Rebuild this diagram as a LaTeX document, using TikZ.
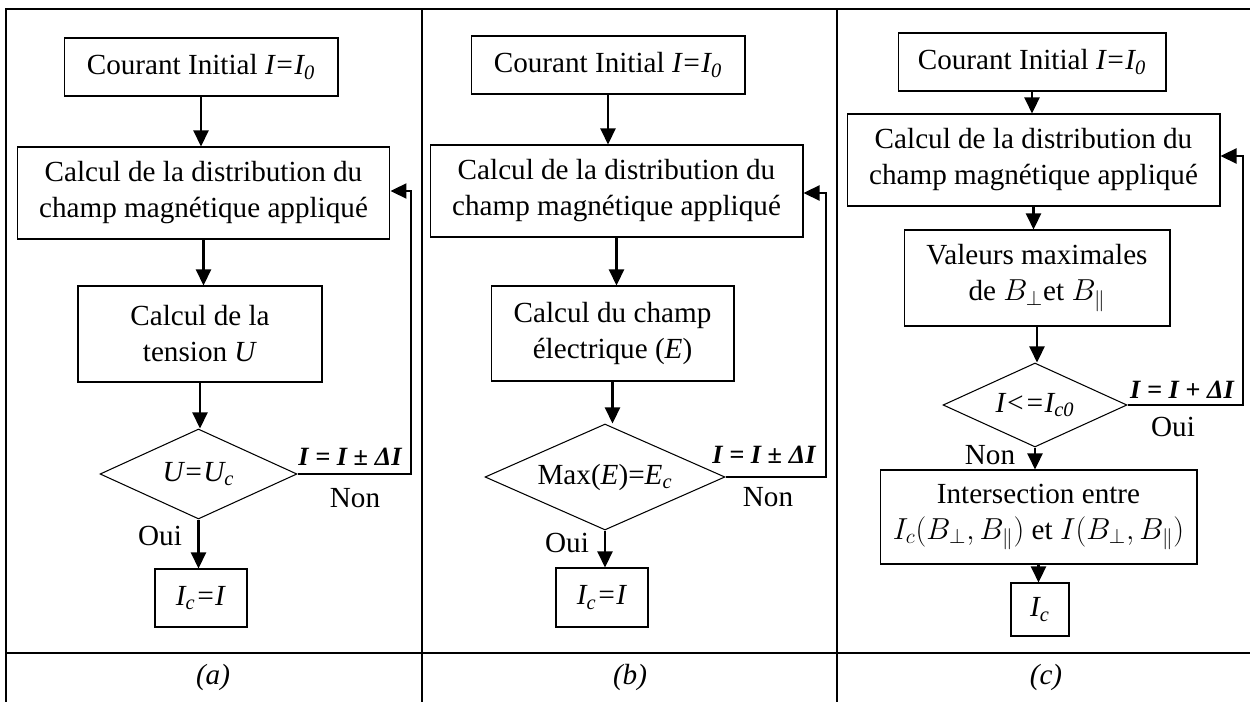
\documentclass[tikz,border=0pt]{standalone}
\usepackage{fontspec}
\setmainfont{Liberation Serif}
\usetikzlibrary{positioning,arrows.meta,shapes.geometric}
\newcommand{\flowsize}{\fontsize{16.6}{20.5}\selectfont}
\tikzset{
  flowbox/.style={draw, line width=0.6pt, align=center, inner sep=0pt},
  decision/.style={diamond, draw, line width=0.6pt, align=center, inner sep=0pt, aspect=2.2},
  flowarr/.style={-{Triangle[length=0.32cm,width=0.3cm]}, line width=1.3pt},
  frameline/.style={line width=1.3pt},
  looplabel/.style={inner sep=0pt, anchor=base, font=\fontsize{15}{18}\selectfont\bfseries\itshape},
  caption/.style={font=\flowsize\itshape}
}

\begin{document}
\begin{tikzpicture}[x=0.02cm, y=-0.02cm, font=\flowsize]
\useasboundingbox (0,0) rectangle (1250,702);
\draw[frameline] (6,702) -- (6,9) -- (1250,9);
\draw[frameline] (6,653) -- (1250,653);
\draw[frameline] (422,9) -- (422,702);
\draw[frameline] (837,9) -- (837,702);

\node[flowbox, minimum width=5.48cm, minimum height=1.16cm] (a1) at (201,67) {Courant Initial \textit{I=I\textsubscript{0}}};
\node[flowbox, minimum width=7.46cm, minimum height=1.84cm] (a2) at (203.5,193) {Calcul de la distribution du\\champ magnétique appliqué};
\node[flowbox, minimum width=4.88cm, minimum height=1.92cm] (a3) at (200,334) {Calcul de la\\tension \textit{U}};
\node[decision, minimum width=3.94cm, minimum height=1.8cm] (ad) at (198.5,474) {\textit{U=U\textsubscript{c}}};
\node[flowbox, minimum width=1.84cm, minimum height=1.16cm] (a4) at (201,598) {\textit{I\textsubscript{c}=I}};
\draw[flowarr] (a1) -- (a1 |- a2.north);
\draw[flowarr] (a2) -- (a2 |- a3.north);
\draw[flowarr] (a3) -- (a3 |- ad.north);
\draw[flowarr] (ad) -- (ad |- a4.north);
\coordinate (ra) at (411,191);
\draw[flowarr] (ad.east) -| (ra) -- (a2.east |- ra);
\node[looplabel] (la) at (350,465) {I = I ± ΔI};
\node (na) at (355,498) {Non};
\node (oa) at (160,536) {Oui};
\node[caption] (capa) at (213,677) {(a)};

\node[flowbox, minimum width=5.48cm, minimum height=1.16cm] (b1) at (608,65) {Courant Initial \textit{I=I\textsubscript{0}}};
\node[flowbox, minimum width=7.46cm, minimum height=1.84cm] (b2) at (616.5,191) {Calcul de la distribution du\\champ magnétique appliqué};
\node[flowbox, minimum width=4.86cm, minimum height=1.9cm] (b3) at (612.5,333.5) {Calcul du champ\\électrique (\textit{E})};
\node[decision, minimum width=4.8cm, minimum height=2.12cm] (bd) at (605,477) {Max(\textit{E})=\textit{E\textsubscript{c}}};
\node[flowbox, minimum width=1.84cm, minimum height=1.18cm] (b4) at (602,597.5) {\textit{I\textsubscript{c}=I}};
\draw[flowarr] (b1) -- (b1 |- b2.north);
\draw[flowarr] (b2) -- (b2 |- b3.north);
\draw[flowarr] (b3) -- (b3 |- bd.north);
\draw[flowarr] (bd) -- (bd |- b4.north);
\coordinate (rb) at (826,193);
\draw[flowarr] (bd.east) -| (rb) -- (b2.east |- rb);
\node[looplabel] (lb) at (764,463) {I = I ± ΔI};
\node (nb) at (768,497) {Non};
\node (ob) at (567,543) {Oui};
\node[caption] (capb) at (630,677) {(b)};

\node[flowbox, minimum width=5.36cm, minimum height=1.16cm] (c1) at (1032,62) {Courant Initial \textit{I=I\textsubscript{0}}};
\node[flowbox, minimum width=7.46cm, minimum height=1.84cm] (c2) at (1033.5,160) {Calcul de la distribution du\\champ magnétique appliqué};
\node[flowbox, minimum width=5.32cm, minimum height=1.92cm] (c3) at (1037,278) {Valeurs maximales\\de $B_\perp$et $B_\parallel$};
\node[decision, minimum width=3.68cm, minimum height=1.68cm] (cd) at (1035,405) {\textit{I<=I\textsubscript{c0}}};
\node[flowbox, minimum width=6.34cm, minimum height=1.88cm] (c4) at (1038.5,517) {Intersection entre\\$I_c(B_\perp,B_\parallel)$ et $I(B_\perp,B_\parallel)$};
\node[flowbox, minimum width=1.16cm, minimum height=1.06cm] (c5) at (1040,609.5) {\textit{I\textsubscript{c}}};
\draw[flowarr] (c1) -- (c1 |- c2.north);
\draw[flowarr] (c2) -- (c2 |- c3.north);
\draw[flowarr] (c3) -- (c3 |- cd.north);
\draw[flowarr] (cd) -- (cd |- c4.north);
\draw[flowarr] (c4) -- (c4 |- c5.north);
\coordinate (rc) at (1243,156);
\draw[flowarr] (cd.east) -| (rc) -- (c2.east |- rc);
\node[looplabel] (lc) at (1182,398) {I = I + ΔI};
\node (oc) at (1173,427) {Oui};
\node (nc) at (990,455) {Non};
\node[caption] (capc) at (1046,677) {(c)};
\end{tikzpicture}
\end{document}
